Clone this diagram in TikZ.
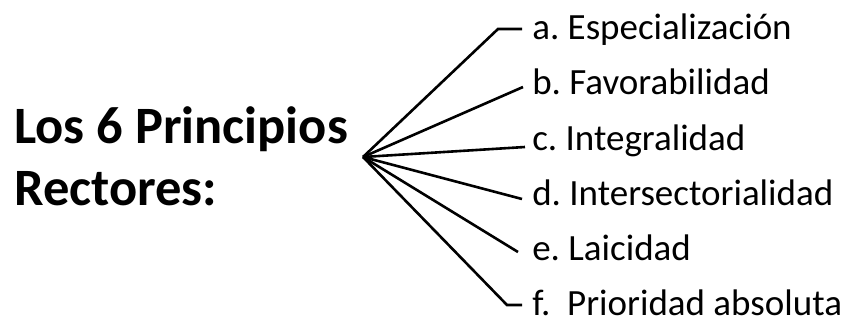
\documentclass[tikz,border=0pt]{standalone}
\usepackage{fontspec}
\setmainfont{Carlito}
\usepackage{tikz}
\usetikzlibrary{calc}
\frenchspacing

\tikzset{
  principio/.style={anchor=base west, inner sep=0pt, font=\fontsize{37}{44}\selectfont}
}

\begin{document}
\begin{tikzpicture}[x=1pt, y=-1pt, line width=2.6pt]

\useasboundingbox (0, 0) rectangle (844, 322);

\node[anchor=base west, align=left, inner sep=0pt, font=\bfseries\fontsize{52.5}{62}\selectfont] (title) at (13, 205) {Los 6 Principios\\Rectores:};

\coordinate (hub) at (363, 157);

% the six principles
\node[principio] (a) at (531, 39) {a. Especialización};
\node[principio] (b) at (531, 94.5) {b. Favorabilidad};
\node[principio] (c) at (531, 150) {c. Integralidad};
\node[principio] (d) at (531, 205) {d. Intersectorialidad};
\node[principio] (e) at (531, 260) {e. Laicidad};
\node[principio] (f) at (531, 315) {f.\ \ Prioridad absoluta};

\coordinate (a1) at (498, 29);
\coordinate (a2) at (522, 29);
\coordinate (b1) at (523, 87);
\coordinate (c1) at (525, 147);
\coordinate (d1) at (522, 199);
\coordinate (e1) at (518, 252);
\coordinate (f1) at (507, 305);
\coordinate (f2) at (522, 305);

\draw (hub) -- (a1) -- (a2);
\draw (hub) -- (b1);
\draw (hub) -- (c1);
\draw (hub) -- (d1);
\draw (hub) -- (e1);
\draw (hub) -- (f1) -- (f2);

\end{tikzpicture}
\end{document}
